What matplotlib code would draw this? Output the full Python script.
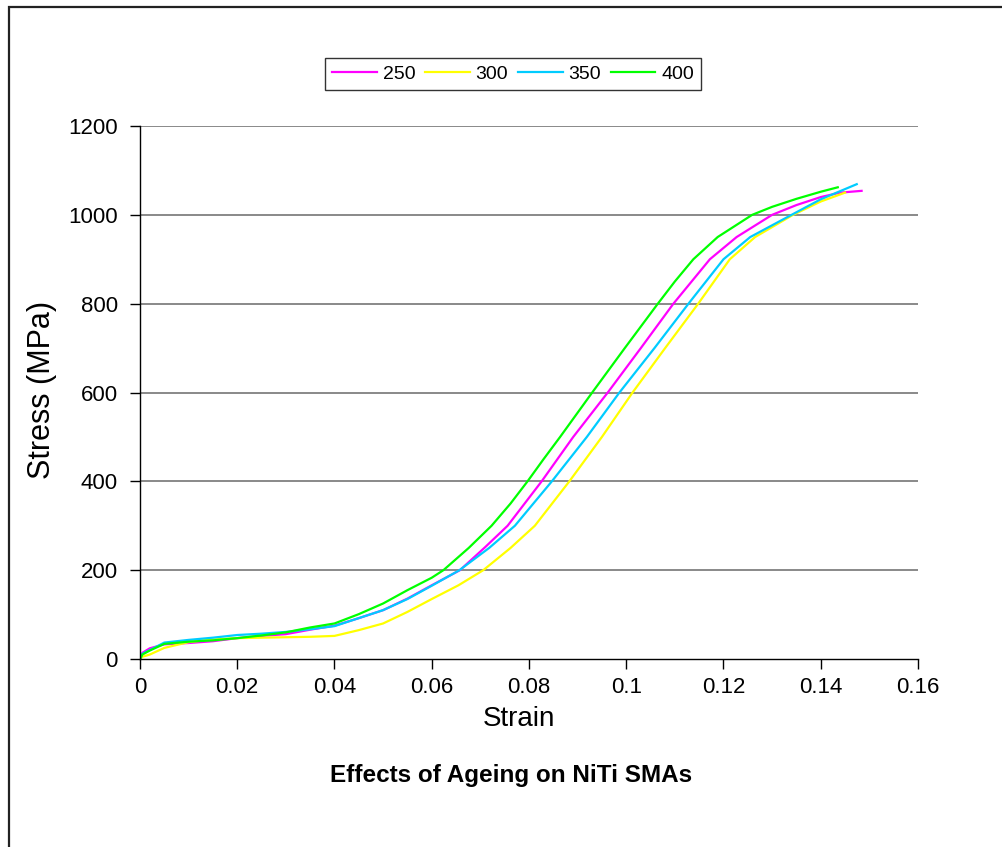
import matplotlib
matplotlib.use("Agg")
import matplotlib.pyplot as plt
from matplotlib.patches import Rectangle

plt.rcParams['font.family'] = ['Liberation Sans', 'DejaVu Sans']

# Stress-strain curves for NiTi aged at different temperatures
labels = ["250", "300", "350", "400"]
colors = ["#FF00FF", "#FFFF00", "#00CCFF", "#00FF00"]

strain_250 = [0, 0.0005, 0.002, 0.005, 0.01, 0.015, 0.02, 0.025, 0.03, 0.035, 0.04,
              0.045, 0.05, 0.055, 0.06, 0.0658, 0.0710, 0.0756, 0.0826, 0.0891,
              0.0962, 0.1030, 0.1097, 0.1172, 0.1227, 0.130, 0.135, 0.140,
              0.144, 0.1484]
stress_250 = [0, 14, 24, 33, 36, 40, 47, 52, 56, 66, 75,
              92, 110, 136, 166, 200, 252, 300, 400, 500,
              600, 700, 800, 900, 950, 1000, 1022, 1040,
              1050, 1054]

strain_300 = [0, 0.0005, 0.002, 0.005, 0.01, 0.015, 0.02, 0.025, 0.03, 0.035, 0.04,
              0.045, 0.05, 0.055, 0.06, 0.0655, 0.0706, 0.0762, 0.0812, 0.0883,
              0.0950, 0.1013, 0.1080, 0.1148, 0.1213, 0.1265, 0.1343, 0.140, 0.145]
stress_300 = [0, 5, 10, 25, 38, 44, 47, 48, 49, 50, 52,
              65, 80, 106, 135, 166, 200, 250, 300, 400,
              500, 600, 700, 800, 900, 950, 1000, 1030, 1050]

strain_350 = [0, 0.0005, 0.002, 0.005, 0.01, 0.015, 0.02, 0.025, 0.03, 0.035, 0.04,
              0.045, 0.05, 0.055, 0.06, 0.0657, 0.0718, 0.0771, 0.0847, 0.0919,
              0.0986, 0.1058, 0.1128, 0.1200, 0.1255, 0.134, 0.140, 0.1474]
stress_350 = [0, 12, 20, 37, 43, 48, 54, 57, 61, 67, 74,
              92, 110, 135, 165, 200, 250, 300, 400, 500,
              600, 700, 800, 900, 950, 1000, 1035, 1069]

strain_400 = [0, 0.0005, 0.002, 0.005, 0.01, 0.015, 0.02, 0.025, 0.03, 0.035, 0.04,
              0.045, 0.05, 0.055, 0.06, 0.0624, 0.0676, 0.0723, 0.0762, 0.0797,
              0.0830, 0.0864, 0.0930, 0.0997, 0.1065, 0.1100, 0.1138, 0.1188,
              0.1259, 0.130, 0.135, 0.140, 0.1435]
stress_400 = [0, 10, 19, 34, 39, 42, 47, 53, 60, 71, 80,
              101, 125, 155, 183, 200, 250, 300, 350, 400,
              450, 500, 600, 700, 800, 850, 900, 950,
              1000, 1018, 1036, 1052, 1062]

x_ticks = [0, 0.02, 0.04, 0.06, 0.08, 0.1, 0.12, 0.14, 0.16]
x_tick_labels = ["0", "0.02", "0.04", "0.06", "0.08", "0.1", "0.12", "0.14", "0.16"]
y_ticks = [0, 200, 400, 600, 800, 1000, 1200]
y_tick_labels = ["0", "200", "400", "600", "800", "1000", "1200"]

W, H = 1003, 847
fig = plt.figure(figsize=(W / 100, H / 100), dpi=100)
fig.patch.set_facecolor("white")

# outer chart-area frame
fig.patches.append(Rectangle((9 / W, -0.02), 1.1, 1 - 7 / H + 0.02,
                             transform=fig.transFigure, fill=False,
                             edgecolor="#222222", linewidth=1.6))

ax = fig.add_axes([140 / W, 1 - 659 / H, (918 - 140) / W, (659 - 126) / H])

series = [(strain_250, stress_250), (strain_300, stress_300),
          (strain_350, stress_350), (strain_400, stress_400)]
for (sx, sy), lab, col in zip(series, labels, colors):
    ax.plot(sx, sy, color=col, linewidth=1.6, label=lab)

ax.set_xlim(0, 0.16)
ax.set_ylim(0, 1200)
ax.set_xticks(x_ticks)
ax.set_xticklabels(x_tick_labels)
ax.set_yticks(y_ticks)
ax.set_yticklabels(y_tick_labels)

for yv in y_ticks[1:]:
    ax.axhline(yv, color="#808080", linewidth=1.3, zorder=0)

for side in ["top", "right"]:
    ax.spines[side].set_visible(False)
for side in ["left", "bottom"]:
    ax.spines[side].set_color("black")
    ax.spines[side].set_linewidth(1.0)

ax.tick_params(axis="both", direction="out", length=7, width=1.0,
               colors="black", labelsize=16)
ax.tick_params(axis="x", pad=6)
ax.tick_params(axis="y", pad=9)

# axis titles and chart caption
fig.text(519 / W, 1 - 719 / H, "Strain", ha="center", va="center", fontsize=20)
fig.text(42 / W, 1 - 390 / H, "Stress (MPa)", ha="center", va="center",
         rotation=90, fontsize=22)
fig.text(511 / W, 1 - 775 / H, "Effects of Ageing on NiTi SMAs",
         ha="center", va="center", fontsize=17.5, fontweight="bold")

leg = fig.legend(loc="center", bbox_to_anchor=(513 / W, 1 - 74 / H), ncol=4,
                 fontsize=14, frameon=True, fancybox=False, shadow=False,
                 handlelength=2.3, handletextpad=0.3, columnspacing=0.5,
                 borderpad=0.35, borderaxespad=0)
leg.get_frame().set_edgecolor("black")
leg.get_frame().set_linewidth(1.0)

fig.savefig("out.png", dpi=100, facecolor="white")
